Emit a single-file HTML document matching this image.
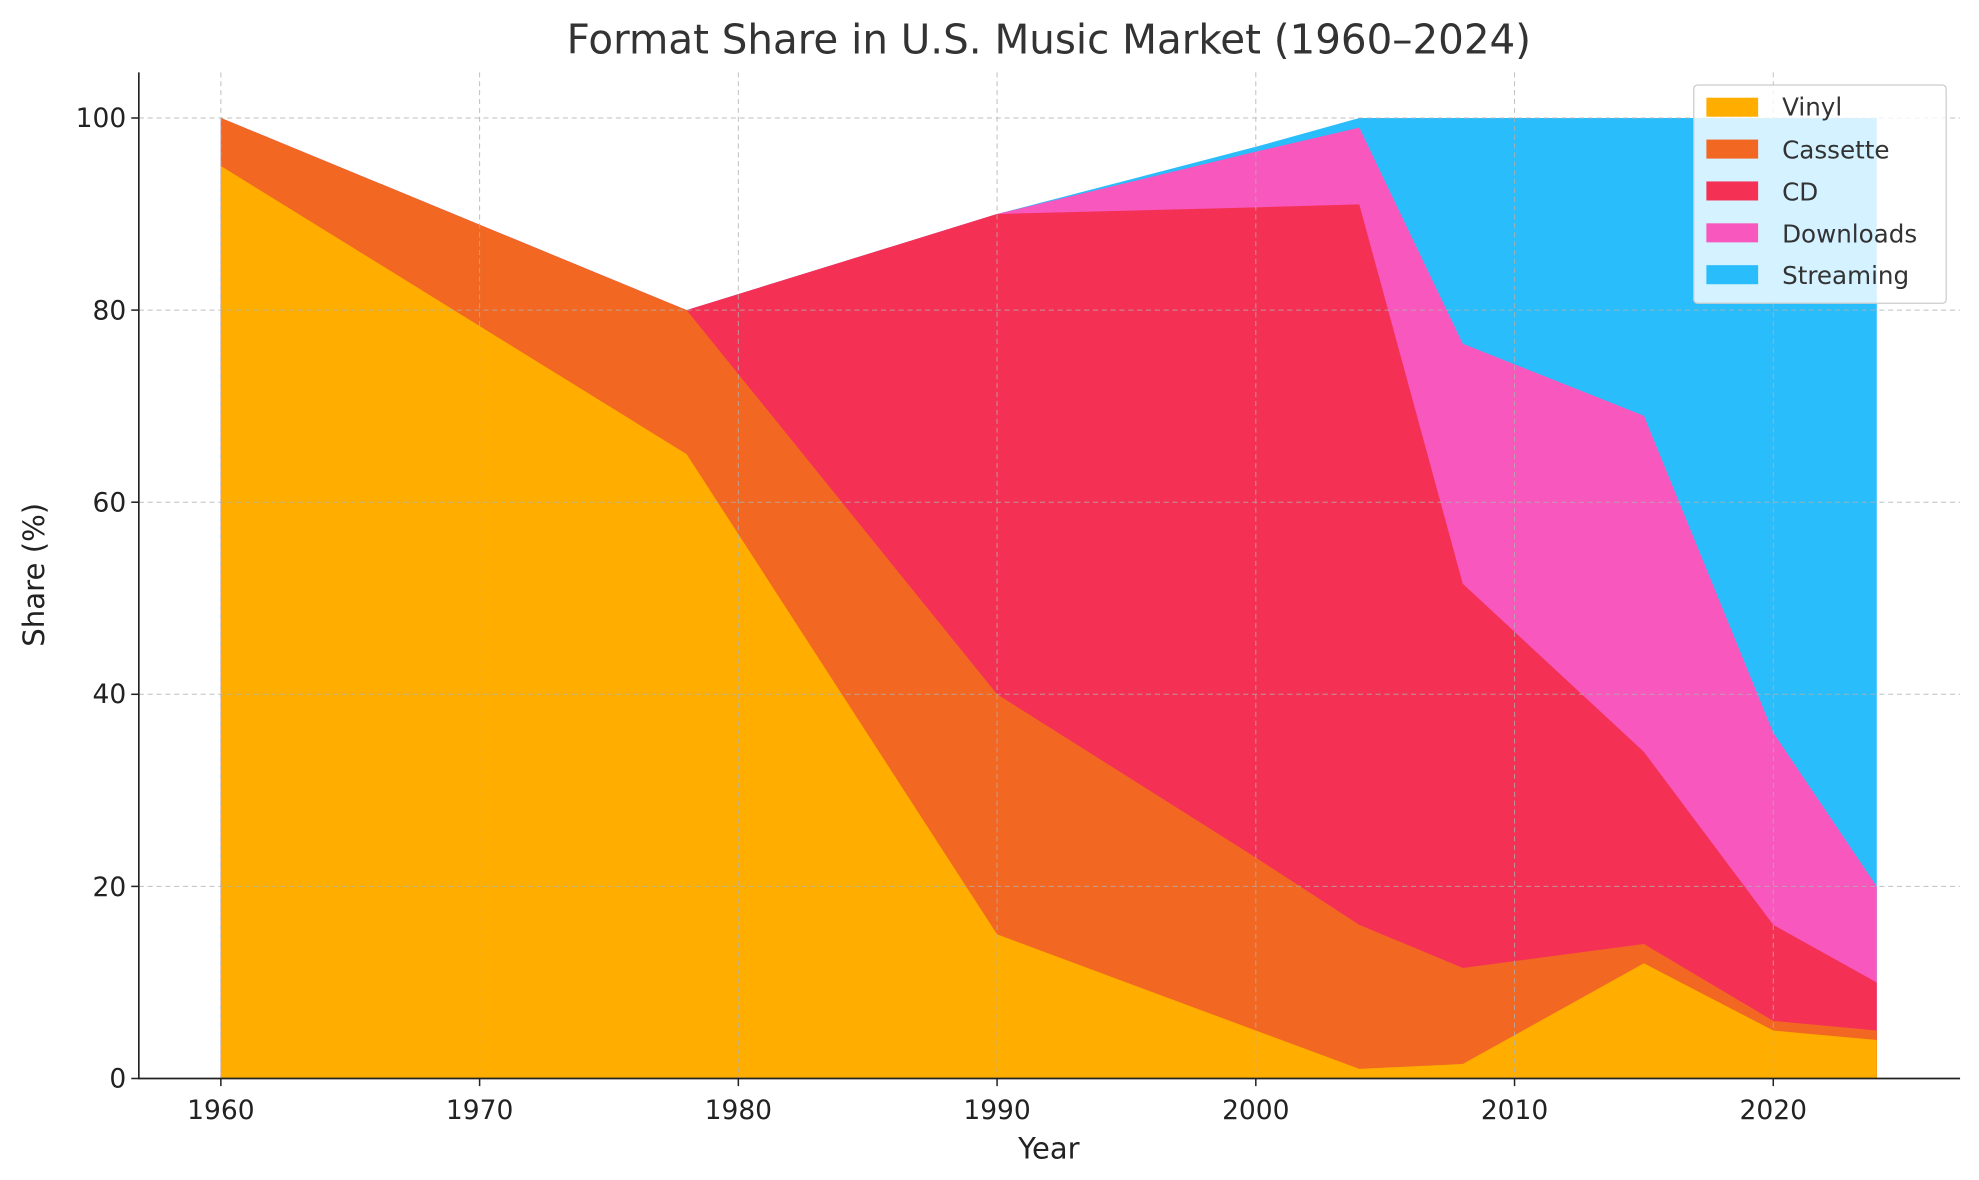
<!DOCTYPE html>
<html><head><meta charset="utf-8"><style>html,body{margin:0;padding:0;background:#fff}svg{display:block}</style></head>
<body>
<svg width="1979" height="1180" viewBox="0 0 1568 930" preserveAspectRatio="none" font-family="'DejaVu Sans', 'Liberation Sans', sans-serif">
<rect width="1568" height="930" fill="#fff"/>
<polygon fill="#2ABDFC" points="175,93 544,244.4 790,168.7 995,115.7 1077,93 1487,93 1487,850 175,850"/>
<polygon fill="#F857BE" points="175,93 544,244.4 790,168.7 995,119.5 1077,100.6 1159,270.9 1302.5,327.7 1405,577.5 1487,698.6 1487,850 175,850"/>
<polygon fill="#F43155" points="175,93 544,244.4 790,168.7 995,163.4 1077,161.1 1159,460.1 1302.5,592.6 1405,728.9 1487,774.3 1487,850 175,850"/>
<polygon fill="#F26822" points="175,93 544,244.4 790,547.2 995,675.9 1077,728.9 1159,762.9 1302.5,744 1405,804.6 1487,812.2 1487,850 175,850"/>
<polygon fill="#FFAE00" points="175,130.8 544,357.9 790,736.4 995,812.2 1077,842.4 1159,838.6 1302.5,759.2 1405,812.2 1487,819.7 1487,850 175,850"/>
<g stroke="#b0b0b0" stroke-width="0.8" stroke-dasharray="4,3" opacity="0.8">
<line x1="175" y1="57" x2="175" y2="850"/><line x1="380" y1="57" x2="380" y2="850"/><line x1="585" y1="57" x2="585" y2="850"/><line x1="790" y1="57" x2="790" y2="850"/><line x1="995" y1="57" x2="995" y2="850"/><line x1="1200" y1="57" x2="1200" y2="850"/><line x1="1405" y1="57" x2="1405" y2="850"/>
<line x1="110" y1="93" x2="1553" y2="93"/><line x1="110" y1="244.4" x2="1553" y2="244.4"/><line x1="110" y1="395.8" x2="1553" y2="395.8"/><line x1="110" y1="547.2" x2="1553" y2="547.2"/><line x1="110" y1="698.6" x2="1553" y2="698.6"/>
</g>
<g stroke="#222" stroke-width="1.3"><line x1="110" y1="57" x2="110" y2="850.5"/><line x1="109.5" y1="850" x2="1553" y2="850"/></g>
<g stroke="#222" stroke-width="1.2">
<line x1="175" y1="850" x2="175" y2="856"/><line x1="380" y1="850" x2="380" y2="856"/><line x1="585" y1="850" x2="585" y2="856"/><line x1="790" y1="850" x2="790" y2="856"/><line x1="995" y1="850" x2="995" y2="856"/><line x1="1200" y1="850" x2="1200" y2="856"/><line x1="1405" y1="850" x2="1405" y2="856"/>
<line x1="104" y1="850" x2="110" y2="850"/><line x1="104" y1="698.6" x2="110" y2="698.6"/><line x1="104" y1="547.2" x2="110" y2="547.2"/><line x1="104" y1="395.8" x2="110" y2="395.8"/><line x1="104" y1="244.4" x2="110" y2="244.4"/><line x1="104" y1="93" x2="110" y2="93"/>
</g>
<g fill="#222" font-size="21" text-anchor="middle">
<text x="175" y="882">1960</text><text x="380" y="882">1970</text><text x="585" y="882">1980</text><text x="790" y="882">1990</text><text x="995" y="882">2000</text><text x="1200" y="882">2010</text><text x="1405" y="882">2020</text>
</g>
<g fill="#222" font-size="21" text-anchor="end">
<text x="100" y="857">0</text><text x="100" y="706">20</text><text x="100" y="554">40</text><text x="100" y="403">60</text><text x="100" y="252">80</text><text x="100" y="100">100</text>
</g>
<text x="831" y="913" font-size="23" fill="#222" text-anchor="middle">Year</text>
<text x="0" y="0" font-size="23" fill="#222" text-anchor="middle" transform="translate(35,453) rotate(-90)">Share (%)</text>
<text x="831" y="42" font-size="32" fill="#333" text-anchor="middle">Format Share in U.S. Music Market (1960–2024)</text>
<rect x="1342" y="67" width="200" height="172" rx="3" fill="#fff" fill-opacity="0.8" stroke="#ccc"/>
<rect x="1352" y="77" width="41" height="15" fill="#FFAE00"/>
<rect x="1352" y="110" width="41" height="15" fill="#F26822"/>
<rect x="1352" y="143" width="41" height="15" fill="#F43155"/>
<rect x="1352" y="176" width="41" height="15" fill="#F857BE"/>
<rect x="1352" y="209" width="41" height="15" fill="#2ABDFC"/>
<g fill="#333" font-size="19.5">
<text x="1412" y="91">Vinyl</text><text x="1412" y="125">Cassette</text><text x="1412" y="158">CD</text><text x="1412" y="191">Downloads</text><text x="1412" y="224">Streaming</text>
</g>
</svg>
</body></html>
